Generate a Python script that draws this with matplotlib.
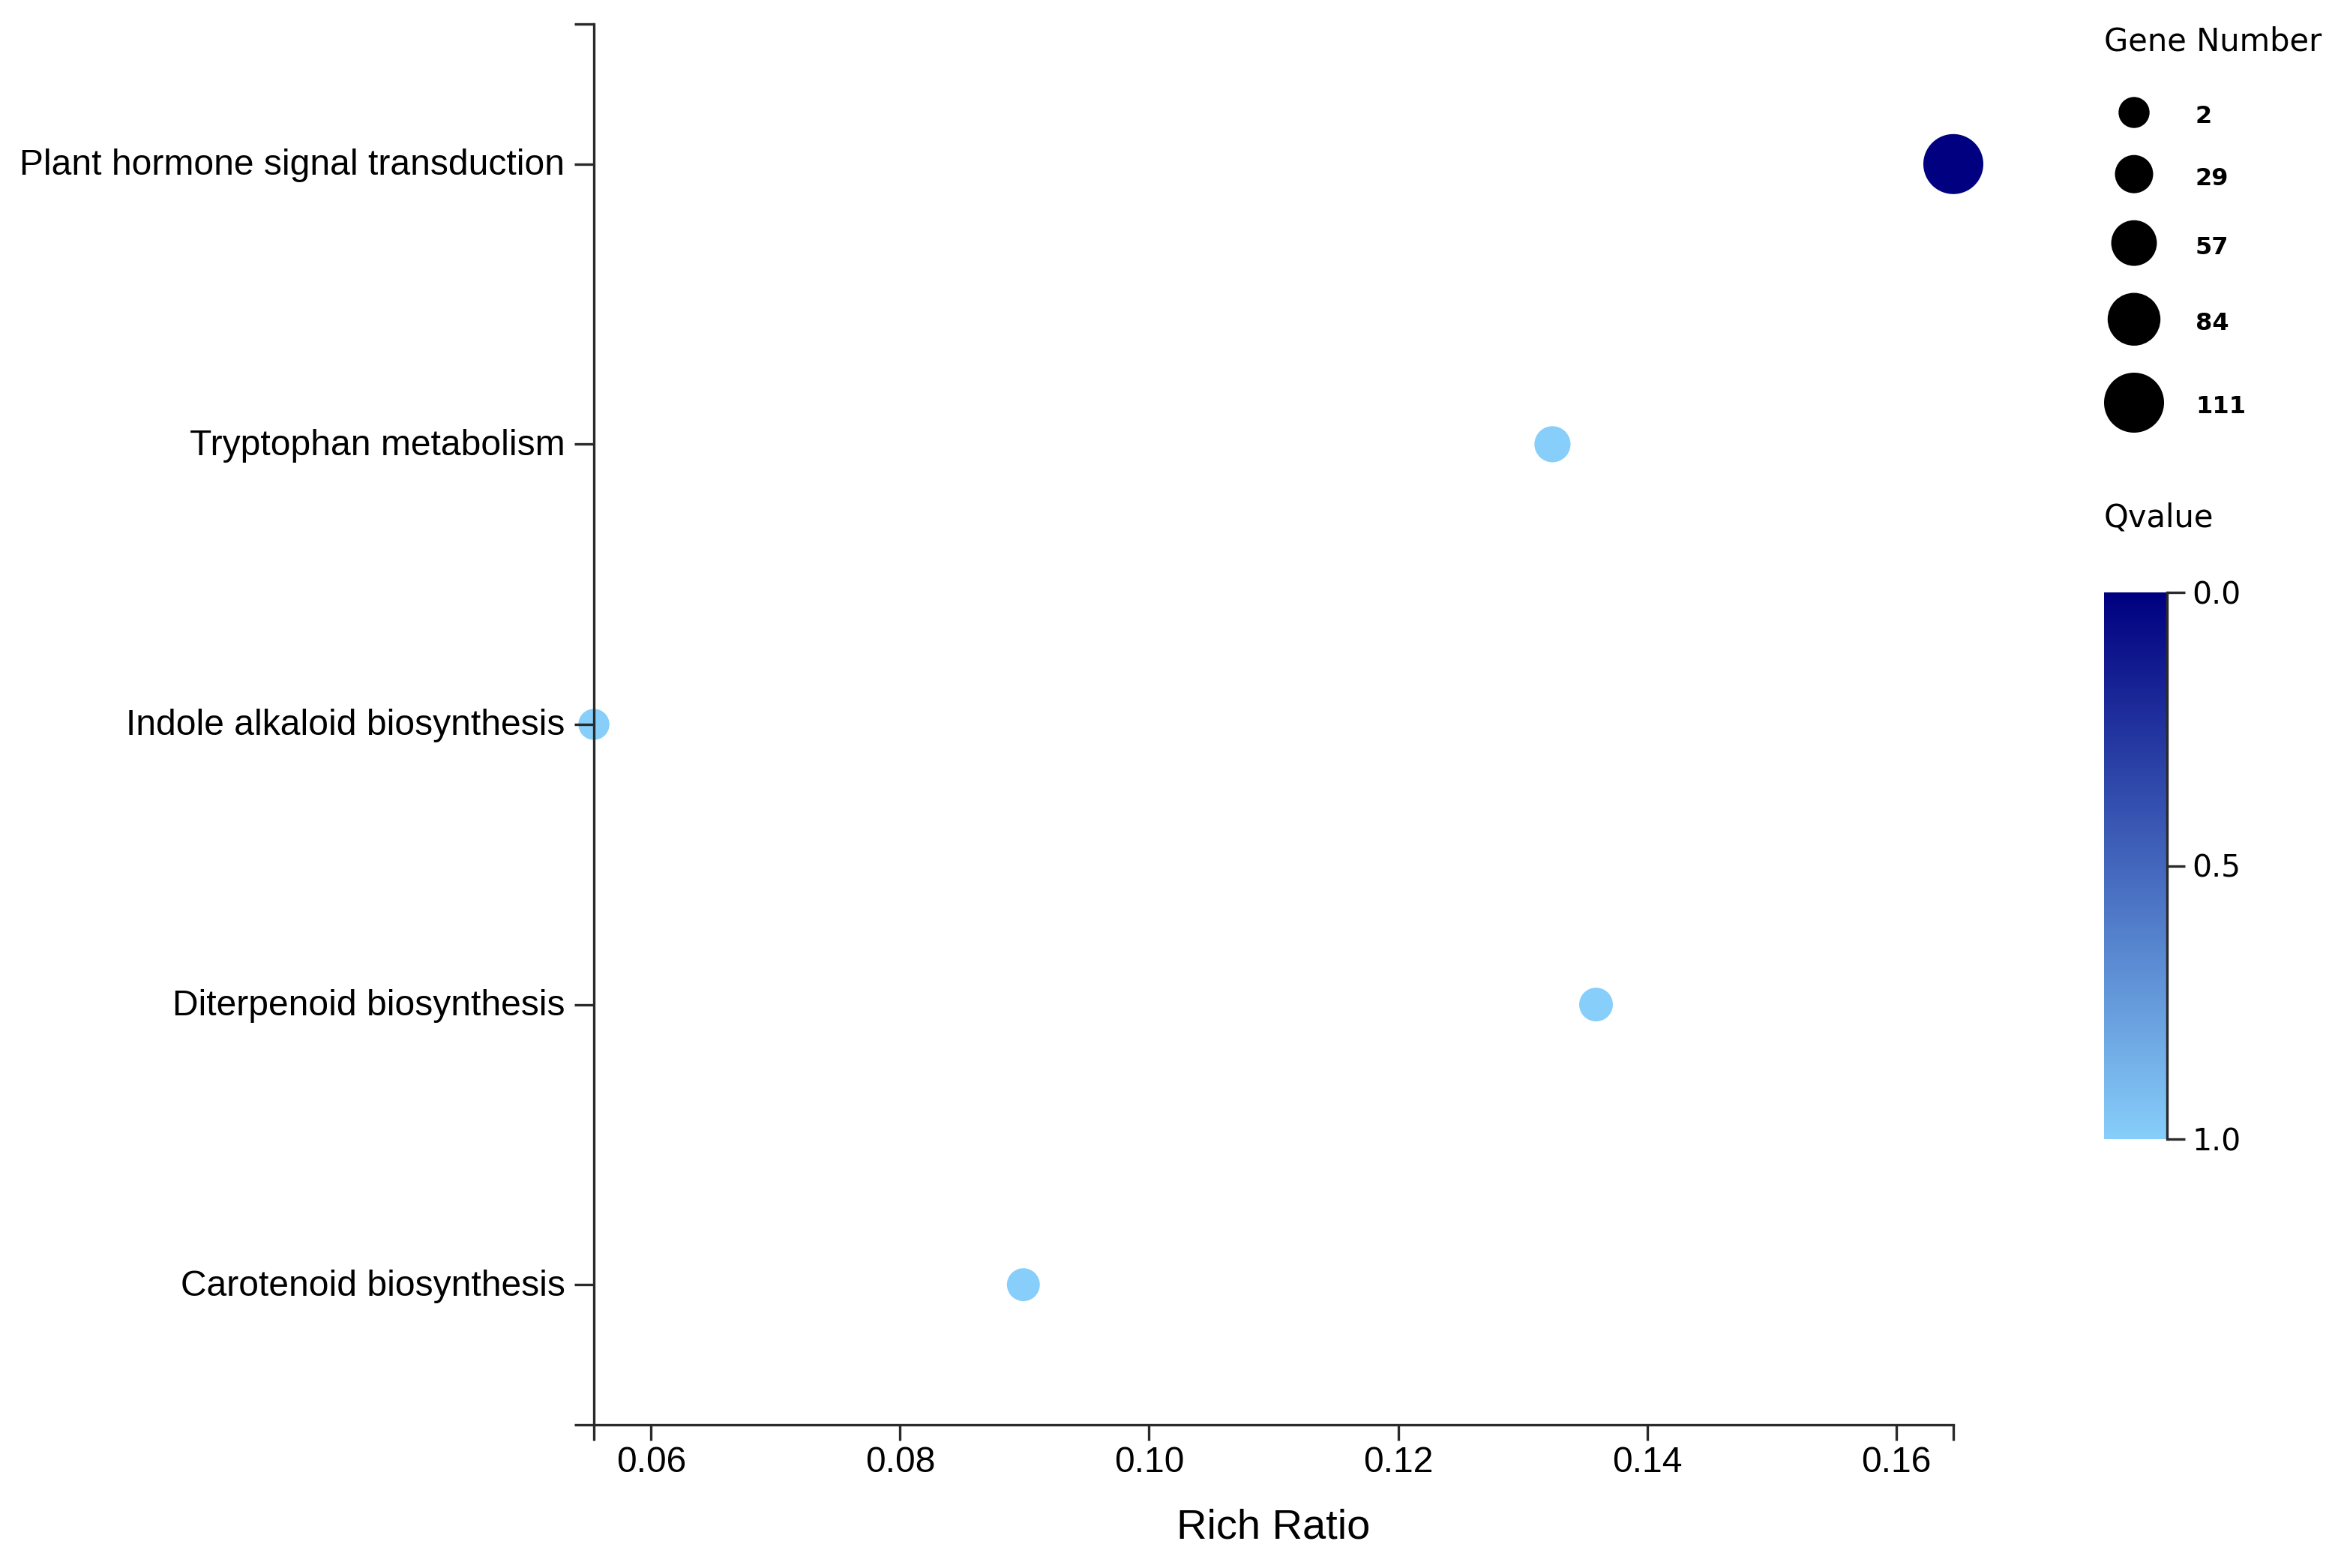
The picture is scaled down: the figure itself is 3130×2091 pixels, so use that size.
import numpy as np
import matplotlib
matplotlib.use("Agg")
import matplotlib.pyplot as plt
import matplotlib.transforms as mtransforms
from matplotlib.colors import LinearSegmentedColormap, Normalize

# data
categories = ["Plant hormone signal transduction", "Tryptophan metabolism",
              "Indole alkaloid biosynthesis", "Diterpenoid biosynthesis",
              "Carotenoid biosynthesis"]
rich_ratio = [0.1646, 0.1324, 0.0554, 0.1359, 0.0899]
gene_number = [111, 21, 2, 12, 9]
qvalue = [0.0, 1.0, 1.0, 1.0, 1.0]
x_ticks = [0.06, 0.08, 0.10, 0.12, 0.14, 0.16]
q_ticks = [0.0, 0.5, 1.0]

DPI = 100
W, H = 3130, 2091
PT = 72 / DPI  # points per pixel
AXIS_COLOR = "#2a2a2a"

cmap = LinearSegmentedColormap.from_list("qv", ["#000080", "#87CEFA"])
norm = Normalize(0, 1)

g_min, g_max = min(gene_number), max(gene_number)


def radius_px(g):
    # linear radius scale, gene number -> circle radius in pixels
    return 20.7 + (g - g_min) * (40.0 - 20.7) / (g_max - g_min)


def marker_size(g):
    return (2 * radius_px(np.asarray(g, dtype=float)) * PT) ** 2


fig = plt.figure(figsize=(W / DPI, H / DPI), dpi=DPI)

left, right, top, bottom = 792, 2605, 32, 1900
ax = fig.add_axes([left / W, 1 - bottom / H, (right - left) / W, (bottom - top) / H])

ypos = np.arange(len(categories))
ax.scatter(rich_ratio, ypos, s=marker_size(gene_number), c=qvalue, cmap=cmap,
           norm=norm, linewidths=0, clip_on=False, zorder=1)

ax.set_xlim(min(rich_ratio), max(rich_ratio))
ax.set_ylim(len(categories) - 0.5, -0.5)

for s in ["top", "right"]:
    ax.spines[s].set_visible(False)
for s in ["left", "bottom"]:
    ax.spines[s].set_linewidth(2.4)
    ax.spines[s].set_color(AXIS_COLOR)

ax.set_yticks(ypos)
ax.set_yticklabels(categories, fontsize=34.6, family="Liberation Sans")
ax.set_yticks([-0.5, len(categories) - 0.5], minor=True)
ax.set_xticks(x_ticks)
ax.set_xticklabels([f"{v:.2f}" for v in x_ticks], fontsize=34.6, family="Liberation Sans")
ax.set_xticks([min(rich_ratio), max(rich_ratio)], minor=True)

ax.tick_params(axis="y", which="both", direction="out", length=26 * PT, width=2.4,
               color=AXIS_COLOR, pad=9)
ax.tick_params(axis="x", which="both", direction="out", length=21 * PT, width=2.4,
               color=AXIS_COLOR, pad=5)

# nudge category labels up a little
shift = mtransforms.ScaledTranslation(0, 3 / DPI, fig.dpi_scale_trans)
for lab in ax.get_yticklabels():
    lab.set_transform(lab.get_transform() + shift)

fig.text((left + right) / 2 / W, 1 - 2038 / H, "Rich Ratio", fontsize=40.3,
         family="Liberation Sans", ha="center", va="center")

# overlay in pixel coordinates for the legends
lax = fig.add_axes([0, 0, 1, 1])
lax.set_xlim(0, W)
lax.set_ylim(H, 0)
lax.axis("off")

lax.text(2806, 56, "Gene Number", fontsize=30, family="DejaVu Sans", ha="left", va="center")

legend_vals = np.floor(np.linspace(g_min, g_max, 5) + 0.5).astype(int)
ys = []
y = 150.0
for i, g in enumerate(legend_vals):
    if i > 0:
        y += radius_px(legend_vals[i - 1]) + radius_px(g) + 36
    ys.append(y)
lax.scatter([2846] * len(legend_vals), ys, s=marker_size(legend_vals), color="black",
            linewidths=0)
for g, yy in zip(legend_vals, ys):
    lax.text(2928, yy + 6, str(g), fontsize=23, family="DejaVu Sans", fontweight="bold",
             ha="left", va="center")

lax.text(2806, 691, "Qvalue", fontsize=30, family="DejaVu Sans", ha="left", va="center")

# colour bar
cb_l, cb_r, cb_t, cb_b = 2806, 2890, 790, 1519
cax = fig.add_axes([cb_l / W, 1 - cb_b / H, (cb_r - cb_l) / W, (cb_b - cb_t) / H])
grad = np.linspace(0, 1, 256).reshape(-1, 1)
cax.imshow(grad, cmap=cmap, norm=norm, aspect="auto", extent=(0, 1, 1, 0))
for s in ["top", "left", "bottom"]:
    cax.spines[s].set_visible(False)
cax.spines["right"].set_linewidth(2.4)
cax.spines["right"].set_color(AXIS_COLOR)
cax.set_xticks([])
cax.yaxis.tick_right()
cax.set_yticks(q_ticks)
cax.set_yticklabels([f"{v:.1f}" for v in q_ticks], fontsize=29.5, family="DejaVu Sans")
cax.tick_params(axis="y", direction="out", length=24 * PT, width=2.4, color=AXIS_COLOR, pad=7)

fig.savefig("out.png", dpi=DPI)
